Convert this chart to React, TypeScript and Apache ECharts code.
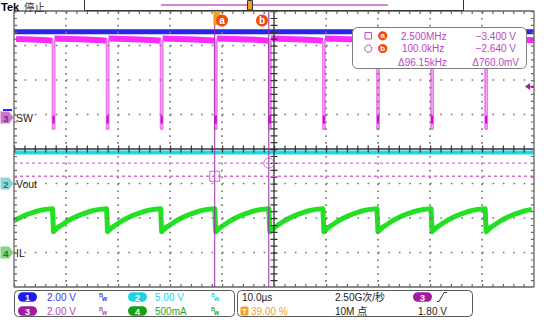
import React, { useEffect, useRef } from "react";
import * as echarts from "echarts";

// ---------- screen ----------
const W = 554;
const H = 332;
const FONT = '"Liberation Sans", "Noto Sans CJK SC", sans-serif';

// ---------- horizontal: 10 µs/div, trigger at 39 % ----------
const timeMin = -39;
const timeMax = 61;
const divMin = -4;
const divMax = 4;

// ---------- channel settings (units / div, position in div) ----------
const ch1Scale = 2.0, ch1Pos = 1.13;
const ch2Scale = 5.0, ch2Pos = -1.0;
const ch3Scale = 2.0, ch3Pos = 0.91;
const ch4Scale = 0.5, ch4Pos = -3.0;

// ---------- CH3 (SW) ----------
const swFallTimes = [-42.0, -31.6, -21.2, -10.8, -0.4, 10.0, 20.4, 30.8, 41.2, 51.6]; // µs
const swPulseWidth = 0.4; // µs
const swLowLevel = -0.66; // V
const swDwellLevels = [0.12, -0.35]; // V
const swPlateauT = [0, 3, 6, 9, 10]; // µs after rising edge
const swPlateauV = [4.58, 4.56, 4.53, 4.49, 4.45]; // V

// ---------- CH1, CH2 ----------
const ch1Level = 4.54; // V
const ch2Level = 4.5; // V (Vout)

// ---------- CH4 (IL), profile after each falling edge ----------
const ilT = [0, 0.2, 1, 2, 3, 4, 5, 6, 7, 8, 9, 10.4]; // µs
const ilA = [0.635, 0.3, 0.36, 0.41, 0.46, 0.5, 0.535, 0.565, 0.59, 0.61, 0.625, 0.635]; // A

// ---------- cursors ----------
const cursorTimes = [-0.4, 10.0]; // a, b (µs)
const cursorVolts = [-3.4, -2.64]; // a, b (V on CH3)
const trigLevel = 1.8; // V on CH3

// ---------- readouts ----------
const measRows = [
  ["2.500MHz", "\u22123.400 V"],
  ["100.0kHz", "\u22122.640 V"],
  ["\u039496.15kHz", "\u0394760.0mV"],
];
const chScaleLabels = ["2.00 V", "5.00 V", "2.00 V", "500mA"];
const timebaseLabel = "10.0\u00b5s";
const trigPosLabel = "39.00 %";
const sampleRateLabel = "2.50G\u6b21/\u79d2";
const recordLabel = "10M \u70b9";
const trigLevelLabel = "1.80 V";

// ---------- layout ----------
const GRID = { left: 14, top: 11, width: 520, height: 276 };
const DIV_W = GRID.width / 10;
const DIV_H = GRID.height / 8;
const px = (t: number) => GRID.left + ((t - timeMin) / 10) * DIV_W;
const py = (d: number) => GRID.top + (divMax - d) * DIV_H;
const toDiv = (v: number, s: number, p: number) => v / s + p;
const tCentre = (timeMin + timeMax) / 2;
const pxToT = (p: number) => (p / DIV_W) * 10;
const pxToD = (p: number) => p / DIV_H;

// ---------- overlay helpers ----------
function txt(x: number, y: number, text: string, color: string, size = 10, align = "left", weight = "normal"): any {
  return {
    type: "text",
    x,
    y,
    z: 100,
    silent: true,
    style: {
      text,
      fill: color,
      fontSize: size,
      fontFamily: FONT,
      fontWeight: weight,
      textAlign: align,
      align,
      textVerticalAlign: "middle",
      verticalAlign: "middle",
    },
  };
}
function pill(x: number, y: number, color: string, label: string): any[] {
  return [
    { type: "rect", z: 100, shape: { x, y: y - 4.8, width: 19, height: 9.6, r: 4.8 }, style: { fill: color } },
    txt(x + 9.5, y + 0.5, label, "#ffffff", 9, "center", "bold"),
  ];
}
function bw(x: number, y: number, color: string): any[] {
  return [txt(x, y - 2, "B", color, 5.5, "left", "bold"), txt(x + 3, y + 1.5, "w", color, 6.5, "left", "bold")];
}
function marker(y: number, fill: string, color: string, label: string): any[] {
  return [
    {
      type: "polygon",
      z: 100,
      shape: { points: [[0.5, y - 6], [9, y - 6], [13.5, y], [9, y + 6], [0.5, y + 6]] },
      style: { fill },
    },
    txt(6, y + 0.5, label, color, 9.5, "center", "bold"),
  ];
}
function badge(x: number, y: number, r: number, label: string, size: number): any[] {
  return [
    { type: "circle", z: 100, shape: { cx: x, cy: y, r }, style: { fill: "#ef4a12" } },
    txt(x, y - 0.5, label, "#ffffff", size, "center", "bold"),
  ];
}

const MEAS = "#bd45bd";
const y1Lvl = py(ch1Pos);
const y2Lvl = py(ch2Pos);
const y3Lvl = py(ch3Pos);
const y4Lvl = py(ch4Pos);
const yTrig = py(toDiv(trigLevel, ch3Scale, ch3Pos));
const xTrig = px(0);
const xa = px(cursorTimes[0]);
const xb = px(cursorTimes[1]);

const graphics: any[] = [
  txt(1, 6.5, "Tek", "#000000", 11, "left", "bold"),
  txt(24, 6.5, "\u505c\u6b62", "#333333", 10.5),
  { type: "rect", z: 100, shape: { x: 84.5, y: -0.5, width: 379, height: 11 }, style: { fill: "#ffffff", stroke: "#333333", lineWidth: 1 } },
  { type: "line", z: 100, shape: { x1: 161, y1: 5, x2: 388, y2: 5 }, style: { stroke: "#c65ec6", lineWidth: 1.5 } },
  { type: "rect", z: 101, shape: { x: 247.5, y: 0.5, width: 5, height: 9.5 }, style: { fill: "#f3a024", stroke: "#3a3a3a", lineWidth: 1 } },
  { type: "polygon", z: 100, shape: { points: [[xTrig - 5, 11.5], [xTrig + 5, 11.5], [xTrig, 16]] }, style: { fill: "#f3a024" } },
  { type: "rect", z: 100, shape: { x: xTrig - 3.5, y: 14, width: 6.5, height: 11 }, style: { fill: "#f3a024" } },
  ...badge(xa + 7.3, 20.5, 6, "a", 10),
  ...badge(xb - 6.8, 20.5, 6, "b", 10),
  { type: "polygon", z: 100, shape: { points: [[525, yTrig], [530, yTrig - 3.5], [530, yTrig + 3.5]] }, style: { fill: "#a0209f" } },
  { type: "line", z: 100, shape: { x1: 529, y1: yTrig, x2: 534, y2: yTrig }, style: { stroke: "#a0209f", lineWidth: 1.5 } },
  { type: "rect", z: 100, shape: { x: 3, y: y1Lvl - 1, width: 9, height: 2 }, style: { fill: "#2a2af0" } },
  ...marker(y3Lvl, "#c97bc9", "#7d1e7d", "3"),
  ...marker(y2Lvl, "#8ad6d8", "#1f7a80", "2"),
  ...marker(y4Lvl, "#86d386", "#1f7a1f", "4"),
  txt(16, y3Lvl, "SW", "#222222", 10.5),
  txt(16, y2Lvl, "Vout", "#222222", 10.5),
  txt(16, y4Lvl, "IL", "#222222", 10.5),
  { type: "rect", z: 100, shape: { x: 352.5, y: 27.5, width: 174, height: 41, r: 5 }, style: { fill: "#ffffff", stroke: "#7f7f7f", lineWidth: 1 } },
  { type: "rect", z: 101, shape: { x: 365, y: 32.5, width: 6.5, height: 6.5 }, style: { fill: "none", stroke: MEAS, lineWidth: 1 } },
  { type: "circle", z: 101, shape: { cx: 368.3, cy: 48.6, r: 3.6 }, style: { fill: "none", stroke: MEAS, lineWidth: 1 } },
  ...badge(382.7, 35.8, 4.6, "a", 8),
  ...badge(382.7, 48.5, 4.6, "b", 8),
  txt(401, 36, measRows[0][0], MEAS),
  txt(516, 36, measRows[0][1], MEAS, 10, "right"),
  txt(402, 48.6, measRows[1][0], MEAS),
  txt(516, 48.6, measRows[1][1], MEAS, 10, "right"),
  txt(398, 62.3, measRows[2][0], MEAS),
  txt(519, 62.3, measRows[2][1], MEAS, 10, "right"),
  { type: "rect", z: 100, shape: { x: 14.5, y: 290.5, width: 220, height: 26, r: 4 }, style: { fill: "#ffffff", stroke: "#5a5a5a", lineWidth: 1 } },
  ...pill(18, 297, "#1c1cf0", "1"),
  txt(47, 297, chScaleLabels[0], "#3838f2"),
  ...bw(99, 297, "#3838f2"),
  ...pill(128, 297, "#22d2e2", "2"),
  txt(155, 297, chScaleLabels[1], "#25d3e3"),
  ...bw(211, 297, "#25d3e3"),
  ...pill(18, 311, "#a21aa2", "3"),
  txt(47, 311, chScaleLabels[2], "#b843b8"),
  ...bw(99, 311, "#b843b8"),
  ...pill(128, 311, "#15a015", "4"),
  txt(155, 311, chScaleLabels[3], "#2aa52a"),
  ...bw(211, 311, "#2aa52a"),
  { type: "rect", z: 100, shape: { x: 237.5, y: 290.5, width: 235, height: 26, r: 4 }, style: { fill: "#ffffff", stroke: "#5a5a5a", lineWidth: 1 } },
  txt(242, 297, timebaseLabel, "#222222"),
  { type: "rect", z: 100, shape: { x: 240.5, y: 306.5, width: 8, height: 9, r: 1.5 }, style: { fill: "#f3a024" } },
  txt(244.5, 311.3, "T", "#ffffff", 8, "center", "bold"),
  txt(251, 311, trigPosLabel, "#f3a024"),
  txt(335, 297, sampleRateLabel, "#222222"),
  txt(335, 311, recordLabel, "#222222"),
  ...pill(413, 297, "#a21aa2", "3"),
  { type: "polyline", z: 100, shape: { points: [[437, 301.5], [439, 301.5], [444, 292.5], [447, 292.5]] }, style: { fill: "none", stroke: "#333333", lineWidth: 1 } },
  txt(418, 311, trigLevelLabel, "#222222"),
];

// ---------- series helper ----------
const seg = (name: string, data: number[][], color: string, width: number, extra: any = {}, z = 2) => ({
  type: "line",
  name,
  xAxisIndex: 0,
  yAxisIndex: 0,
  data,
  z,
  silent: true,
  showSymbol: false,
  symbol: "none",
  clip: false,
  lineStyle: { color, width, cap: "butt", ...extra },
});

const series: any[] = [];

// ---------- traces ----------
series.push(
  seg("CH2 Vout", [
    [timeMin, toDiv(ch2Level, ch2Scale, ch2Pos)],
    [timeMax, toDiv(ch2Level, ch2Scale, ch2Pos)],
  ], "#1fd6e8", 4)
);
const ch4Data: number[][] = [];
swFallTimes.forEach((te) =>
  ilT.forEach((dt, j) => {
    const t = te + dt;
    if (t >= timeMin && t <= timeMax) ch4Data.push([t, toDiv(ilA[j], ch4Scale, ch4Pos)]);
  })
);
series.push(seg("CH4 IL", ch4Data, "#22e022", 5, { join: "round" }));
swFallTimes.forEach((te, k) => {
  const tr = te + swPulseWidth;
  const pts = swPlateauT
    .map((dt, j) => [tr + dt, toDiv(swPlateauV[j], ch3Scale, ch3Pos)])
    .filter((p) => p[0] >= timeMin && p[0] <= timeMax);
  if (pts.length > 1) series.push(seg("CH3 SW " + k, pts, "#fb2cfb", 6));
});
series.push(
  seg("CH1", [
    [timeMin, toDiv(ch1Level, ch1Scale, ch1Pos)],
    [timeMax, toDiv(ch1Level, ch1Scale, ch1Pos)],
  ], "#2626ee", 5)
);
swFallTimes.forEach((te, k) => {
  if (te < timeMin) return;
  const tr = te + swPulseWidth;
  const vEnd = toDiv(swPlateauV[swPlateauV.length - 1], ch3Scale, ch3Pos);
  const vStart = toDiv(swPlateauV[0], ch3Scale, ch3Pos);
  const lo = toDiv(swLowLevel, ch3Scale, ch3Pos);
  series.push(seg("CH3 edge " + k, [[te, vEnd], [te, lo], [tr, lo], [tr, vStart]], "#f07cf0", 1.8));
  const mid = te + swPulseWidth / 2;
  series.push(
    seg("CH3 dwell " + k, [
      [mid, toDiv(swDwellLevels[0], ch3Scale, ch3Pos)],
      [mid, toDiv(swDwellLevels[1], ch3Scale, ch3Pos)],
    ], "#d600d6", 2)
  );
});

// ---------- graticule (line series) ----------
const DOT = "#7a7a7a";
const AX = "#333333";
const EDGE = "#666666";
const DOTW = 1.7;
for (let i = 1; i < 10; i++) {
  if (i === 5) continue;
  const t = timeMin + i * 10;
  series.push(seg("grid col " + i, [[t, divMax], [t, divMin]], DOT, DOTW, { type: [DOTW, DIV_H / 5 - DOTW] }, 4));
}
for (let j = 1; j < 8; j++) {
  if (j === 4) continue;
  const d = divMax - j;
  series.push(seg("grid row " + j, [[timeMin, d], [timeMax, d]], DOT, DOTW, { type: [DOTW, DIV_W / 5 - DOTW] }, 4));
}
series.push(seg("centre v", [[tCentre, divMax], [tCentre, divMin]], AX, 1.3, {}, 4));
series.push(seg("centre v ticks", [[tCentre, divMax], [tCentre, divMin]], AX, 7, { type: [1.2, DIV_H / 5 - 1.2] }, 4));
series.push(seg("centre h", [[timeMin, 0], [timeMax, 0]], AX, 1.3, {}, 4));
series.push(seg("centre h ticks", [[timeMin, 0], [timeMax, 0]], AX, 7, { type: [1.2, DIV_W / 5 - 1.2] }, 4));
series.push(
  seg("border", [[timeMin, divMax], [timeMax, divMax], [timeMax, divMin], [timeMin, divMin], [timeMin, divMax]], EDGE, 1.3, {}, 4)
);
const tIn = pxToT(1.5);
const dIn = pxToD(1.5);
series.push(seg("edge ticks L", [[timeMin + tIn, divMax], [timeMin + tIn, divMin]], EDGE, 3, { type: [1.2, DIV_H / 5 - 1.2] }, 4));
series.push(seg("edge ticks R", [[timeMax - tIn, divMax], [timeMax - tIn, divMin]], EDGE, 3, { type: [1.2, DIV_H / 5 - 1.2] }, 4));
series.push(seg("edge ticks T", [[timeMin, divMax - dIn], [timeMax, divMax - dIn]], EDGE, 3, { type: [1.2, DIV_W / 5 - 1.2] }, 4));
series.push(seg("edge ticks B", [[timeMin, divMin + dIn], [timeMax, divMin + dIn]], EDGE, 3, { type: [1.2, DIV_W / 5 - 1.2] }, 4));

// ---------- cursors ----------
cursorTimes.forEach((t, k) => series.push(seg("cursor t" + k, [[t, divMin], [t, divMax]], "#9b2ca9", 1, {}, 5)));
cursorVolts.forEach((v, k) =>
  series.push(
    seg("cursor v" + k, [
      [timeMin, toDiv(v, ch3Scale, ch3Pos)],
      [timeMax, toDiv(v, ch3Scale, ch3Pos)],
    ], "#d16fd1", 1.3, { type: [3, 3] }, 5)
  )
);
series.push({
  type: "scatter",
  name: "cursor a",
  xAxisIndex: 0,
  yAxisIndex: 0,
  z: 6,
  silent: true,
  data: [[cursorTimes[0], toDiv(cursorVolts[0], ch3Scale, ch3Pos)]],
  symbol: "rect",
  symbolSize: 10,
  itemStyle: { color: "rgba(0,0,0,0)", borderColor: "#c04ac0", borderWidth: 1 },
});
series.push({
  type: "scatter",
  name: "cursor b",
  xAxisIndex: 0,
  yAxisIndex: 0,
  z: 6,
  silent: true,
  data: [[cursorTimes[1], toDiv(cursorVolts[1], ch3Scale, ch3Pos)]],
  symbol: "circle",
  symbolSize: 10,
  itemStyle: { color: "rgba(0,0,0,0)", borderColor: "#c04ac0", borderWidth: 1 },
});

const option: any = {
  animation: false,
  backgroundColor: "#ffffff",
  grid: { left: GRID.left, top: GRID.top, width: GRID.width, height: GRID.height },
  xAxis: { type: "value", min: timeMin, max: timeMax, show: false },
  yAxis: { type: "value", min: divMin, max: divMax, show: false },
  series,
  graphic: { elements: graphics },
};

export default function App() {
  const ref = useRef<HTMLDivElement>(null);
  useEffect(() => {
    if (!ref.current) return;
    const chart = echarts.init(ref.current, null, { renderer: "svg", width: W, height: H });
    chart.setOption(option);
    return () => chart.dispose();
  }, []);
  return (
    <div
      ref={ref}
      style={{ position: "fixed", left: 0, top: 0, width: W, height: H, background: "#ffffff" }}
    />
  );
}
